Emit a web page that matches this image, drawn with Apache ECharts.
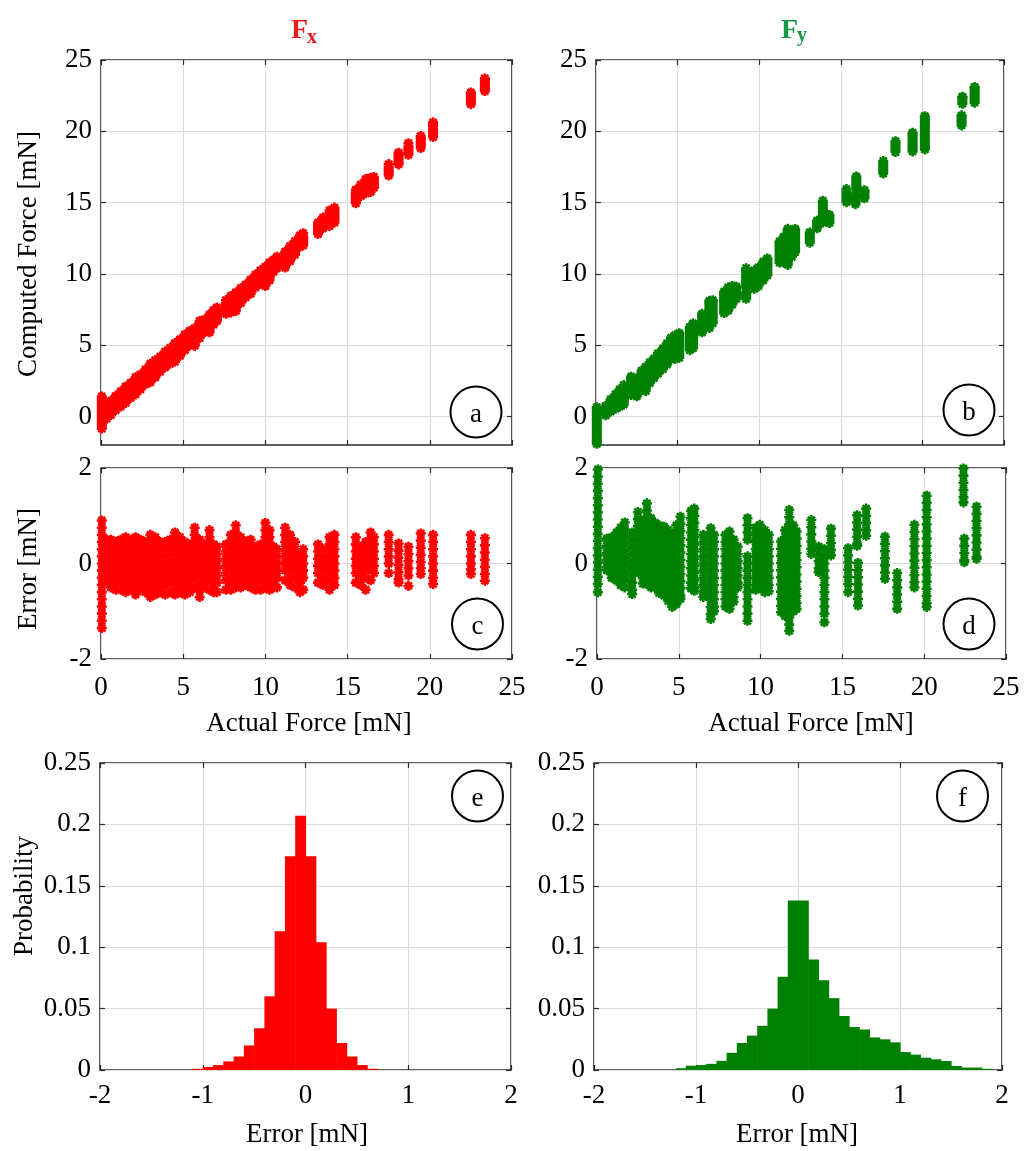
<!DOCTYPE html>
<html><head><meta charset="utf-8">
<script src="https://cdn.jsdelivr.net/npm/echarts@6/dist/echarts.min.js"></script>
<style>html,body{margin:0;padding:0;background:#fff}#chart{width:1026px;height:1151px}</style>
</head><body><div id="chart"></div>
<script>
// ---------- DATA ----------
// Each column: [actual force (mN), error values (mN) ...]; computed force = actual - error
const fxColumns = [
[0.05, 0.9,0.75,0.6,0.45,0.3,0.15,0,-0.15,-0.3,-0.45,-0.6,-0.75,-0.9,-1.05,-1.2,-1.35],
[0.35, 0.5,0.35,0.2,0.05,-0.1,-0.25,-0.35],
[0.6, 0.5,0.35,0.2,0.05,-0.1,-0.25,-0.4,-0.5],
[0.9, 0.45,0.3,0.15,0,-0.15,-0.3,-0.45,-0.55],
[1.2, 0.5,0.35,0.2,0.05,-0.1,-0.25,-0.4,-0.55],
[1.5, 0.55,0.4,0.25,0.1,-0.05,-0.2,-0.35,-0.5,-0.6],
[1.8, 0.5,0.35,0.2,0.05,-0.1,-0.25,-0.4,-0.55],
[2.1, 0.55,0.4,0.25,0.1,-0.05,-0.2,-0.35,-0.5,-0.65],
[2.4, 0.5,0.35,0.2,0.05,-0.1,-0.25,-0.4,-0.55],
[2.7, 0.45,0.3,0.15,0,-0.15,-0.3,-0.45,-0.6],
[3.0, 0.6,0.45,0.3,0.15,0,-0.15,-0.3,-0.45,-0.6,-0.7],
[3.3, 0.55,0.4,0.25,0.1,-0.05,-0.2,-0.35,-0.5,-0.65],
[3.6, 0.45,0.3,0.15,0,-0.15,-0.3,-0.45,-0.6],
[3.9, 0.45,0.3,0.15,0,-0.15,-0.3,-0.45,-0.65],
[4.2, 0.5,0.35,0.2,0.05,-0.1,-0.25,-0.4,-0.6],
[4.5, 0.65,0.5,0.35,0.2,0.05,-0.1,-0.25,-0.4,-0.55,-0.65],
[4.8, 0.55,0.4,0.25,0.1,-0.05,-0.2,-0.35,-0.5,-0.6],
[5.1, 0.45,0.3,0.15,0,-0.15,-0.3,-0.45,-0.65],
[5.4, 0.4,0.25,0.1,-0.05,-0.2,-0.35,-0.5,-0.6],
[5.7, 0.75,0.6,0.45,0.3,0.15,0,-0.15,-0.3,-0.5],
[6.0, 0.5,0.35,0.2,0.05,-0.1,-0.25,-0.4,-0.55,-0.7],
[6.3, 0.4,0.25,0.1,-0.05,-0.2,-0.35,-0.5],
[6.6, 0.7,0.55,0.4,0.25,0.1,-0.05,-0.2,-0.35,-0.55],
[6.85, 0.4,0.25,0.1,-0.05,-0.2,-0.35,-0.5,-0.6],
[7.05, 0.35,0.2,0.05,-0.1,-0.25,-0.4,-0.6],
[7.6, 0.4,0.25,0.1,-0.05,-0.2,-0.35,-0.55],
[7.9, 0.6,0.45,0.3,0.15,0,-0.15,-0.3,-0.45,-0.55],
[8.2, 0.8,0.65,0.5,0.35,0.2,0.05,-0.1,-0.25,-0.4,-0.5],
[8.5, 0.55,0.4,0.25,0.1,-0.05,-0.2,-0.35,-0.5],
[8.8, 0.45,0.3,0.15,0,-0.15,-0.3,-0.45],
[9.1, 0.5,0.35,0.2,0.05,-0.1,-0.25,-0.4,-0.5],
[9.4, 0.35,0.2,0.05,-0.1,-0.25,-0.4,-0.55],
[9.7, 0.4,0.25,0.1,-0.05,-0.2,-0.35,-0.55],
[10.0, 0.85,0.7,0.55,0.4,0.25,0.1,-0.05,-0.2,-0.35,-0.5],
[10.25, 0.7,0.55,0.4,0.25,0.1,-0.05,-0.2,-0.35,-0.55],
[10.5, 0.35,0.2,0.05,-0.1,-0.25,-0.4,-0.5],
[10.7, 0.3,0.15,0,-0.15,-0.3,-0.5],
[11.2, 0.75,0.6,0.45,0.3,0.15,0,-0.15,-0.35],
[11.5, 0.6,0.45,0.3,0.15,0,-0.15,-0.3,-0.45],
[11.8, 0.45,0.3,0.15,0,-0.15,-0.3,-0.5],
[12.1, 0.2,0.05,-0.1,-0.25,-0.4,-0.6],
[12.3, 0.3,0.15,0,-0.15,-0.3,-0.55],
[13.2, 0.4,0.25,0.1,-0.05,-0.2,-0.4],
[13.5, 0.3,0.15,0,-0.15,-0.3,-0.45],
[13.9, 0.55,0.4,0.25,0.1,-0.05,-0.2,-0.35,-0.55],
[14.2, 0.6,0.45,0.3,0.15,0,-0.15,-0.3,-0.45],
[15.5, 0.55,0.4,0.25,0.1,-0.05,-0.2,-0.4],
[15.8, 0.35,0.2,0.05,-0.1,-0.25,-0.45],
[16.1, 0.45,0.3,0.15,0,-0.15,-0.3,-0.55],
[16.4, 0.65,0.5,0.35,0.2,0.05,-0.1,-0.35],
[16.6, 0.55,0.4,0.25,0.1,-0.05,-0.2],
[17.5, 0.6,0.45,0.3,0.15,0,-0.2],
[18.1, 0.42,0.27,0.12,-0.03,-0.18,-0.33,-0.4],
[18.7, 0.35,0.2,0.05,-0.1,-0.25,-0.47],
[19.45, 0.63,0.48,0.33,0.18,0.03,-0.1,-0.22],
[20.2, 0.6,0.45,0.3,0.15,0,-0.15,-0.3,-0.43],
[22.5, 0.6,0.45,0.3,0.15,0,-0.12,-0.22],
[23.35, 0.53,0.38,0.23,0.08,-0.07,-0.22,-0.36]
];
const fyColumns = [
[0.05, 1.97,1.82,1.67,1.52,1.37,1.22,1.07,0.92,0.77,0.62,0.47,0.32,0.17,0.02,-0.13,-0.28,-0.43,-0.6],
[0.6, 0.52,0.37,0.22,0.07,-0.08,-0.14],
[0.9, 0.55,0.4,0.25,0.1,-0.05,-0.2,-0.3],
[1.2, 0.65,0.5,0.35,0.2,0.05,-0.1,-0.25,-0.36],
[1.45, 0.75,0.6,0.45,0.3,0.15,0,-0.15,-0.3,-0.45],
[1.7, 0.86,0.71,0.56,0.41,0.26,0.11,-0.04,-0.19,-0.34,-0.5],
[2.15, 0.65,0.5,0.35,0.2,0.05,-0.1,-0.25,-0.4,-0.55,-0.64],
[2.5, 1.08,0.93,0.78,0.63,0.48,0.33,0.18,0.03,-0.12,-0.18],
[2.8, 0.9,0.75,0.6,0.45,0.3,0.15,0,-0.15,-0.3,-0.42],
[3.05, 1.26,1.11,0.96,0.81,0.66,0.51,0.36,0.21,0.06,-0.09,-0.24,-0.43],
[3.3, 0.95,0.8,0.65,0.5,0.35,0.2,0.05,-0.1,-0.25,-0.4,-0.5],
[3.55, 0.85,0.7,0.55,0.4,0.25,0.1,-0.05,-0.2,-0.35,-0.5],
[3.8, 0.8,0.65,0.5,0.35,0.2,0.05,-0.1,-0.25,-0.4,-0.55,-0.62],
[4.1, 0.77,0.62,0.47,0.32,0.17,0.02,-0.13,-0.28,-0.43,-0.58,-0.67],
[4.35, 0.7,0.55,0.4,0.25,0.1,-0.05,-0.2,-0.35,-0.5,-0.65,-0.78],
[4.6, 0.6,0.45,0.3,0.15,0,-0.15,-0.3,-0.45,-0.6,-0.75,-0.91],
[4.85, 0.8,0.65,0.5,0.35,0.2,0.05,-0.1,-0.25,-0.4,-0.55,-0.7,-0.85],
[5.1, 0.98,0.83,0.68,0.53,0.38,0.23,0.08,-0.07,-0.22,-0.37,-0.52,-0.67,-0.74],
[5.75, 1.1,0.95,0.8,0.65,0.5,0.35,0.2,0.05,-0.1,-0.25,-0.4,-0.52],
[5.95, 1.15,1.0,0.85,0.7,0.55,0.4,0.25,0.1,-0.05,-0.2,-0.35,-0.5,-0.57],
[6.5, 0.6,0.45,0.3,0.15,0,-0.15,-0.3,-0.45,-0.6,-0.7],
[6.95, 0.74,0.59,0.44,0.29,0.14,-0.01,-0.16,-0.31,-0.46,-0.61,-0.76,-0.91,-1.06,-1.16],
[7.15, 0.6,0.45,0.3,0.15,0,-0.15,-0.3,-0.45,-0.6,-0.75,-0.9,-1.0],
[7.85, 0.6,0.45,0.3,0.15,0,-0.15,-0.3,-0.45,-0.6,-0.75,-0.9],
[8.1, 0.67,0.52,0.37,0.22,0.07,-0.08,-0.23,-0.38,-0.53,-0.68,-0.83,-0.95],
[8.35, 0.5,0.35,0.2,0.05,-0.1,-0.25,-0.4,-0.55,-0.7,-0.8],
[8.6, 0.35,0.2,0.05,-0.1,-0.25,-0.4,-0.5],
[9.2, 0.95,0.8,0.65,0.5,0.15,0,-0.15,-0.3,-0.45,-0.6,-0.75,-0.9,-1.05,-1.2],
[9.7, 0.75,0.6,0.45,0.3,0.15,0,-0.15,-0.3,-0.45,-0.55],
[9.95, 0.81,0.66,0.51,0.36,0.21,0.06,-0.09,-0.24,-0.39,-0.5],
[10.25, 0.7,0.55,0.4,0.25,0.1,-0.05,-0.2,-0.35,-0.5,-0.6],
[10.5, 0.6,0.45,0.3,0.15,0,-0.15,-0.3,-0.45,-0.58],
[11.25, 0.46,0.31,0.16,0.01,-0.14,-0.29,-0.44,-0.59,-0.74,-0.89,-1.02],
[11.5, 0.7,0.55,0.4,0.25,0.1,-0.05,-0.2,-0.35,-0.5,-0.65,-0.8,-0.95,-1.1],
[11.75, 1.12,0.97,0.82,0.67,0.52,0.37,0.22,0.07,-0.08,-0.23,-0.38,-0.53,-0.68,-0.83,-0.98,-1.13,-1.28,-1.41],
[12.0, 0.8,0.65,0.5,0.35,0.2,0.05,-0.1,-0.25,-0.4,-0.55,-0.7,-0.85,-1.0],
[12.2, 0.67,0.52,0.37,0.22,0.07,-0.08,-0.23,-0.38,-0.53,-0.68,-0.83,-0.95],
[13.1, 0.91,0.76,0.61,0.46,0.31,0.2],
[13.55, 0.35,0.2,0.05,-0.1,-0.18],
[13.9, 0.3,0.15,0,-0.15,-0.3,-0.45,-0.6,-0.75,-0.9,-1.05,-1.23],
[14.3, 0.73,0.58,0.43,0.28,0.17],
[15.35, 0.32,0.17,0.02,-0.13,-0.28,-0.43,-0.6],
[15.9, 1.01,0.86,0.71,0.56,0.41,0.37],
[15.95, 0.01,-0.14,-0.29,-0.44,-0.59,-0.74,-0.88],
[16.45, 1.15,1.0,0.85,0.7,0.58],
[17.6, 0.56,0.41,0.26,0.11,-0.04,-0.19,-0.32],
[18.35, -0.2,-0.35,-0.5,-0.65,-0.8,-0.95],
[19.4, 0.81,0.66,0.51,0.36,0.21,0.06,-0.09,-0.24,-0.39,-0.5],
[20.15, 1.42,1.27,1.12,0.97,0.82,0.67,0.52,0.37,0.22,0.07,-0.08,-0.23,-0.38,-0.53,-0.68,-0.83,-0.91],
[22.4, 1.99,1.84,1.69,1.54,1.39,1.28],
[22.45, 0.52,0.37,0.22,0.07,0.03],
[23.2, 1.19,1.04,0.89,0.74,0.59,0.44,0.29,0.14,0.1]
];
// Histograms: left bin edge (mN) and probability, bin width 0.1 mN
const histFxLeft = [-1.1,-1.0,-0.9,-0.8,-0.7,-0.6,-0.5,-0.4,-0.3,-0.2,-0.1,0.0,0.1,0.2,0.3,0.4,0.5,0.6];
const histFxProb = [0.001,0.0025,0.004,0.007,0.011,0.02,0.034,0.06,0.113,0.174,0.207,0.174,0.104,0.05,0.022,0.011,0.004,0.001];
const histFyLeft = [-1.2,-1.1,-1.0,-0.9,-0.8,-0.7,-0.6,-0.5,-0.4,-0.3,-0.2,-0.1,0.0,0.1,0.2,0.3,0.4,0.5,0.6,0.7,0.8,0.9,1.0,1.1,1.2,1.3,1.4,1.5,1.6,1.7,1.8];
const histFyProb = [0.0014,0.0035,0.004,0.005,0.0075,0.014,0.022,0.028,0.036,0.05,0.076,0.138,0.138,0.09,0.073,0.0585,0.044,0.035,0.033,0.0265,0.025,0.0225,0.0146,0.0125,0.01,0.0087,0.0073,0.0033,0.002,0.002,0.001];
const histBinWidth = 0.1;
// Tick labels
const forceTicks = [0,5,10,15,20,25];
const computedTicks = [0,5,10,15,20,25];
const errorTicks = [-2,0,2];
const histErrorTicks = [-2,-1,0,1,2];
const probTicks = [0,0.05,0.1,0.15,0.2,0.25];

// ---------- BUILD ----------
const toErr = cols => cols.flatMap(c => c.slice(1).map(e => [c[0], e]));
const toComp = cols => cols.flatMap(c => c.slice(1).map(e => [c[0], +(c[0] - e).toFixed(3)]));
const toHist = (left, prob) => left.map((l, i) => [l, +(l + histBinWidth).toFixed(2), prob[i]]);

const RED = '#ff0000', GREEN = '#008000';
const FONT = 'Liberation Serif';
const star = 'path://M5 0L5 10M0 5L10 5M1.5 1.5L8.5 8.5M1.5 8.5L8.5 1.5';

const gridBoxes = [
  {left:101, top:60, width:411, height:385},
  {left:596, top:60, width:408, height:385},
  {left:101, top:468, width:411, height:191},
  {left:597, top:468, width:409, height:191},
  {left:100, top:763, width:411, height:307},
  {left:594, top:763, width:408, height:307}
];
const grid = gridBoxes.map(b => Object.assign({show:true, borderColor:'#2b2b2b', borderWidth:1.6, backgroundColor:'#fff'}, b));

const tickStyle = {color:'#2b2b2b', width:1.2};
const fmt = v => String(Math.round(v * 100) / 100);
function mainAxis(g, pos, min, max, ticks, showLabel, margin) {
  return {type:'value', gridIndex:g, position:pos, min:min, max:max,
    axisLine:{show:false, onZero:false},
    axisTick:{show:true, inside:true, length:5, customValues:ticks, lineStyle:tickStyle},
    axisLabel:{show:showLabel, customValues:ticks, margin:margin, color:'#000', fontFamily:FONT, fontSize:27, formatter:fmt},
    splitLine:{show:true, lineStyle:{color:'#dcdcdc', width:1}}};
}
function mirrorAxis(g, pos, min, max, ticks) {
  return {type:'value', gridIndex:g, position:pos, min:min, max:max,
    axisLine:{show:false, onZero:false},
    axisTick:{show:true, inside:true, length:5, customValues:ticks, lineStyle:tickStyle},
    axisLabel:{show:false}, splitLine:{show:false}};
}
const panels = [
  {x:[0,25,forceTicks,false,15], y:[-2,25,computedTicks]},
  {x:[0,25,forceTicks,false,15], y:[-2,25,computedTicks]},
  {x:[0,25,forceTicks,true,15], y:[-2,2,errorTicks]},
  {x:[0,25,forceTicks,true,15], y:[-2,2,errorTicks]},
  {x:[-2,2,histErrorTicks,true,12.5], y:[0,0.25,probTicks]},
  {x:[-2,2,histErrorTicks,true,12.5], y:[0,0.25,probTicks]}
];
const xAxis = [], yAxis = [];
panels.forEach((p, g) => {
  xAxis.push(mainAxis(g, 'bottom', p.x[0], p.x[1], p.x[2], p.x[3], p.x[4]));
  xAxis.push(mirrorAxis(g, 'top', p.x[0], p.x[1], p.x[2]));
  yAxis.push(mainAxis(g, 'left', p.y[0], p.y[1], p.y[2], true, 9));
  yAxis.push(mirrorAxis(g, 'right', p.y[0], p.y[1], p.y[2]));
});

function scatter(g, data, color) {
  return {type:'scatter', xAxisIndex:2*g, yAxisIndex:2*g, data:data, symbol:star, symbolSize:10,
    itemStyle:{color:color, borderColor:color, borderWidth:2.6, opacity:1}, silent:true, z:3};
}
function hist(g, data, color) {
  return {type:'custom', xAxisIndex:2*g, yAxisIndex:2*g, data:data, encode:{x:[0,1], y:2}, silent:true,
    renderItem:function(params, api){
      const p0 = api.coord([api.value(0), api.value(2)]);
      const p1 = api.coord([api.value(1), 0]);
      return {type:'rect', shape:{x:p0[0], y:p0[1], width:p1[0]-p0[0]+0.6, height:p1[1]-p0[1]}, style:{fill:color}};
    }};
}
const series = [
  scatter(0, toComp(fxColumns), RED),
  scatter(1, toComp(fyColumns), GREEN),
  scatter(2, toErr(fxColumns), RED),
  scatter(3, toErr(fyColumns), GREEN),
  hist(4, toHist(histFxLeft, histFxProb), RED),
  hist(5, toHist(histFyLeft, histFyProb), GREEN)
];

function txt(x, y, text, opts) {
  opts = opts || {};
  const el = {type:'text', x:x, y:y, z:100,
    style:Object.assign({text:text, fill:'#000', fontFamily:FONT, fontSize:27, fontWeight:'normal', align:'center', verticalAlign:'middle'}, opts.style || {})};
  if (opts.rotation) el.rotation = opts.rotation;
  return el;
}
function badge(cx, cy, letter) {
  return [
    {type:'circle', z:100, shape:{cx:cx, cy:cy, r:25.5}, style:{fill:'#fff', stroke:'#000', lineWidth:2}},
    txt(cx, cy + 2.5, letter)
  ];
}
const graphic = [
  txt(299.5, 31, 'F', {style:{fill:'#e41e1e', fontWeight:'bold', fontSize:28}}),
  txt(312, 38, 'x', {style:{fill:'#e41e1e', fontWeight:'bold', fontSize:20}}),
  txt(789.5, 31, 'F', {style:{fill:'#17994b', fontWeight:'bold', fontSize:28}}),
  txt(802, 36, 'y', {style:{fill:'#17994b', fontWeight:'bold', fontSize:20}}),
  txt(29, 254, 'Computed Force [mN]', {rotation:Math.PI/2}),
  txt(29, 569, 'Error [mN]', {rotation:Math.PI/2}),
  txt(24.5, 896, 'Probability', {rotation:Math.PI/2}),
  txt(309, 724, 'Actual Force [mN]'),
  txt(811, 724, 'Actual Force [mN]'),
  txt(307, 1135, 'Error [mN]'),
  txt(797, 1135, 'Error [mN]')
].concat(badge(476, 412, 'a'), badge(969, 410, 'b'), badge(477.5, 624, 'c'),
         badge(969, 624, 'd'), badge(477.5, 796, 'e'), badge(962.5, 796, 'f'));

const chart = echarts.init(document.getElementById('chart'), null, {renderer:'canvas'});
chart.setOption({animation:false, backgroundColor:'#fff', grid:grid, xAxis:xAxis, yAxis:yAxis, series:series, graphic:graphic});
</script></body></html>
